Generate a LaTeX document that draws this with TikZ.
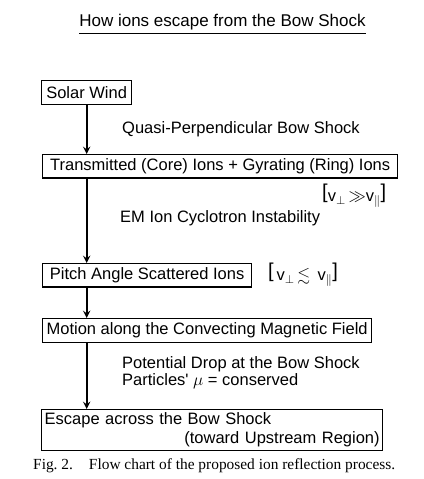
\documentclass[tikz,border=0pt]{standalone}
\usepackage{amsmath,amssymb}
\usepackage{fontspec}
\setmainfont{Liberation Serif}
\newfontfamily\leroy{Liberation Sans}
\usepackage{tikz}
\newcommand{\bigbr}[1]{\raisebox{2.5pt}{\fontsize{20}{20}\selectfont#1}}

\begin{document}
\begin{tikzpicture}[x=1pt,y=-1pt,>=stealth,
  flowbox/.style={draw,line width=1.3pt,inner sep=4pt,anchor=north west,
    minimum height=24pt,font=\leroy\fontsize{16.5}{19}\selectfont},
  note/.style={anchor=base west,inner sep=0pt,font=\leroy\fontsize{16.5}{19}\selectfont},
  flow/.style={->,line width=2.2pt}]
  \useasboundingbox (0,0) rectangle (423,479);
  \node[note,anchor=base,font=\leroy\fontsize{17}{19}\selectfont] (title) at (222.5,27) {\underline{How ions escape from the Bow Shock}};
  % boxes of the chart
  \node[flowbox,minimum width=90pt] (solar) at (41,80) {Solar Wind};
  \node[flowbox,minimum width=355pt,minimum height=23pt] (trans) at (42,154) {Transmitted (Core) Ions + Gyrating (Ring) Ions};
  \node[flowbox,minimum width=209pt,minimum height=23pt] (pitch) at (42,263) {Pitch Angle Scattered Ions};
  \node[flowbox,minimum width=325pt] (motion) at (42,318) {Motion along the Convecting Magnetic Field};
  \node[flowbox,text width=335pt,align=left,inner xsep=3pt,inner ysep=2pt,minimum height=41pt] (escape) at (41,409)
    {Escape across the Bow Shock\\\makebox[335pt][r]{(toward Upstream Region)}};
  % what happens on the way down
  \node[note] (quasi) at (122,133) {Quasi-Perpendicular Bow Shock};
  \node[note,anchor=west] (perpgg) at (322,196) {\bigbr{[}v$_\perp$\,$\gg$v$_{\parallel}$\bigbr{]}};
  \node[note] (emic) at (120,222) {EM Ion Cyclotron Instability};
  \node[note,anchor=west] (perple) at (268,275) {\bigbr{[}\,v$_\perp$\,$\lesssim$\, v$_{\parallel}$\bigbr{]}};
  \node[note] (drop) at (122,368) {Potential Drop at the Bow Shock};
  \node[note] (mu) at (122,385) {Particles' $\mu$ = conserved};
  % arrows
  \draw[flow] (solar.south) -- (solar.south |- trans.north);
  \draw[flow] (trans.south -| solar.south) -- (pitch.north -| solar.south);
  \draw[flow] (pitch.south -| solar.south) -- (motion.north -| solar.south);
  \draw[flow] (motion.south -| solar.south) -- (escape.north -| solar.south);
  \node[anchor=base west,inner sep=0pt,font=\fontsize{15.4}{18}\selectfont] (caption) at (33,469)
    {Fig.~2.\hspace{16pt}Flow chart of the proposed ion reflection process.};
\end{tikzpicture}
\end{document}
